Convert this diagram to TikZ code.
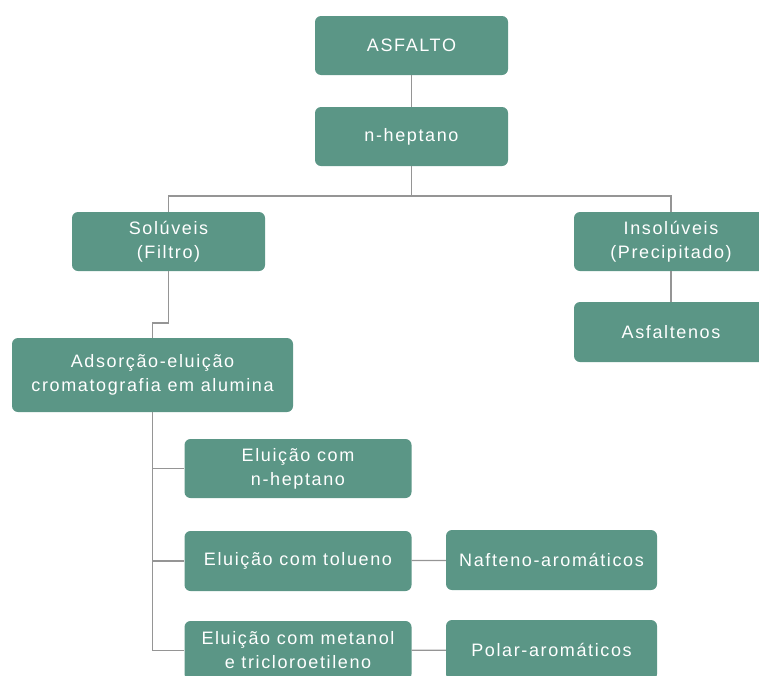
\documentclass[tikz,border=0pt]{standalone}
\usepackage{fontspec}
\setmainfont[LetterSpace=9]{Liberation Sans}
\definecolor{boxc}{HTML}{5B9686}
\definecolor{linec}{HTML}{959595}
\begin{document}
\begin{tikzpicture}[x=1pt,y=-1pt,
  box/.style={fill=boxc, rounded corners=6pt, text=white, align=center, inner sep=0pt,
    font=\fontsize{18}{24}\selectfont},
  conn/.style={draw=linec, line width=1.3pt}]
\useasboundingbox (0,0) rectangle (759,675);
\clip (0,0) rectangle (759,675);
\node[box, minimum width=193pt, minimum height=59pt] (asf) at (411.5,45.5) {ASFALTO};
\node[box, minimum width=193pt, minimum height=59pt] (nhep) at (411.5,136.5) {n-heptano};
\node[box, minimum width=193pt, minimum height=59pt] (sol) at (168.5,241.5) {Solúveis\\(Filtro)};
\node[box, minimum width=194pt, minimum height=59pt] (ins) at (671,241.5) {Insolúveis\\(Precipitado)};
\node[box, minimum width=194pt, minimum height=60pt] (asfn) at (671,332) {Asfaltenos};
\node[box, minimum width=281pt, minimum height=74pt] (ads) at (152.5,375) {Adsorção-eluição\\cromatografia em alumina};
\node[box, minimum width=227pt, minimum height=59pt] (e1) at (298,468.5) {Eluição com\\n-heptano};
\node[box, minimum width=227pt, minimum height=60pt] (e2) at (298,561) {Eluição com tolueno};
\node[box, minimum width=227pt, minimum height=59pt] (e3) at (298,650.5) {Eluição com metanol\\e tricloroetileno};
\node[box, minimum width=211pt, minimum height=60pt] (naf) at (551.5,560) {Nafteno-aromáticos};
\node[box, minimum width=211pt, minimum height=60pt] (pol) at (551.5,650) {Polar-aromáticos};
\coordinate (j1) at (411.5,196);
\coordinate (k1) at (168.5,323);
\coordinate (k2) at (152.5,323);
\draw[conn] (asf) -- (nhep);
\draw[conn] (nhep) -- (j1);
\draw[conn] (sol.north) |- (j1) -| (ins.north);
\draw[conn] (ins) -- (asfn);
\draw[conn] (sol.south) -- (k1) -- (k2) -- (ads.north);
\draw[conn] (ads.south) |- (e3.west);
\draw[conn] (ads.south |- e1.west) -- (e1.west);
\draw[conn] (ads.south |- e2.west) -- (e2.west);
\draw[conn] (e2) -- (naf);
\draw[conn] (e3) -- (pol);
\end{tikzpicture}
\end{document}
